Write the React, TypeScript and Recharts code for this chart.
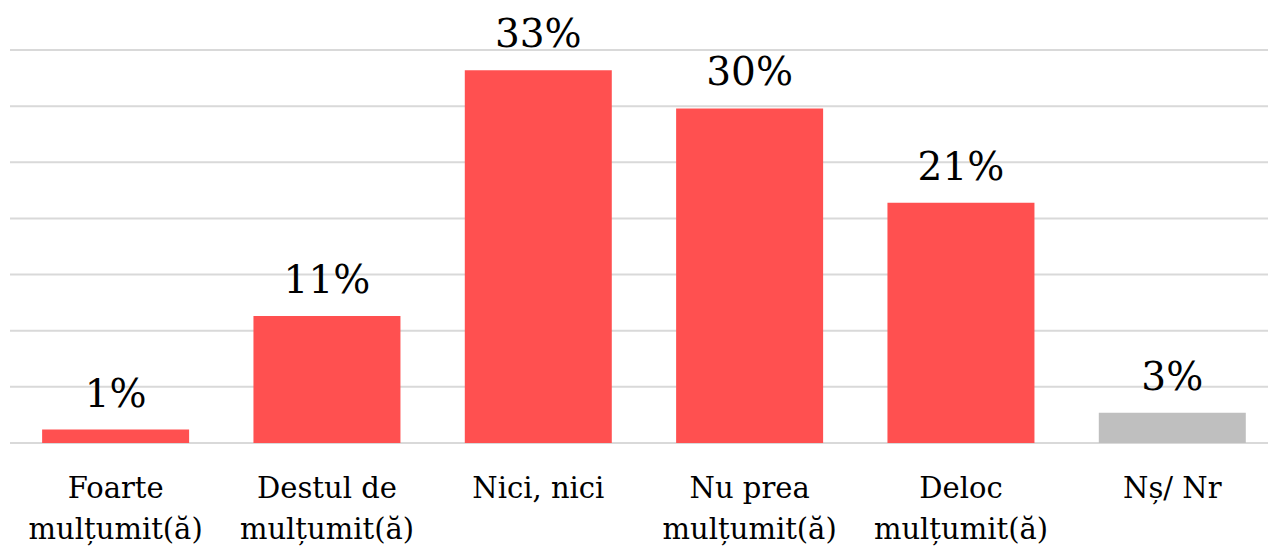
import { BarChart, Bar, XAxis, YAxis, CartesianGrid, Cell, LabelList } from 'recharts'

const categories = [
  ['Foarte', 'mulțumit(ă)'],
  ['Destul de', 'mulțumit(ă)'],
  ['Nici, nici'],
  ['Nu prea', 'mulțumit(ă)'],
  ['Deloc', 'mulțumit(ă)'],
  ['Nș/ Nr'],
]
const values = [1.2, 11.3, 33.2, 29.8, 21.4, 2.7]
const labels = ['1%', '11%', '33%', '30%', '21%', '3%']
const colors = ['#FF5050', '#FF5050', '#FF5050', '#FF5050', '#FF5050', '#BFBFBF']
const yTicks = [0, 5, 10, 15, 20, 25, 30, 35]

const data = values.map((v, i) => ({ name: categories[i].join(' '), lines: categories[i], value: v, label: labels[i] }))

const FONT = '"DejaVu Serif", serif'

function CategoryTick(props: any) {
  const { x, payload, index } = props
  const lines = data[index]?.lines ?? [payload.value]
  return (
    <text x={x} y={498} textAnchor="middle" fontFamily={FONT} fontSize={29} fill="#000">
      {lines.map((l: string, i: number) => (
        <tspan key={i} x={x} y={498 + i * 41}>
          {l}
        </tspan>
      ))}
    </text>
  )
}

export default function App() {
  return (
    <div style={{ position: 'absolute', left: 0, top: 0, width: 1268, height: 546, overflow: 'hidden', background: '#fff' }}>
      <BarChart width={1290} height={546} data={data} margin={{ top: 50, right: 12, left: 10, bottom: 0 }} barCategoryGap="15.2%">
        <CartesianGrid vertical={false} stroke="#d9d9d9" strokeWidth={2} />
        <XAxis dataKey="name" height={103} axisLine={false} tickLine={false} interval={0} tick={<CategoryTick />} />
        <YAxis hide domain={[0, 35]} ticks={yTicks} />
        <Bar dataKey="value" isAnimationActive={false}>
          {data.map((d, i) => (
            <Cell key={d.name} fill={colors[i]} />
          ))}
          <LabelList dataKey="label" position="top" offset={23} fontFamily={FONT} fontSize={39} fill="#000" />
        </Bar>
      </BarChart>
    </div>
  )
}
